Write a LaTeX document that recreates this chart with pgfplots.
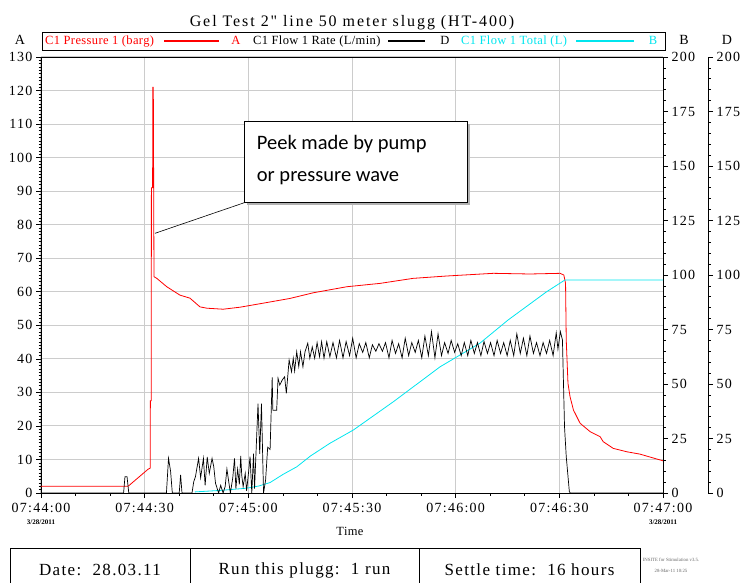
\documentclass[border=0pt]{standalone}
\usepackage{fontspec}
\usepackage{pgfplots}
\pgfplotsset{compat=1.18}
\setmainfont{Liberation Serif}
\newfontfamily\tickfont[LetterSpace=9]{Liberation Serif}
\newfontfamily\legfont[LetterSpace=3]{Liberation Serif}
\newfontfamily\titlefont[LetterSpace=12]{Liberation Serif}
\newfontfamily\footfont[LetterSpace=8]{Liberation Serif}
\newfontfamily\calfont{Carlito}
\definecolor{cyanline}{HTML}{00E5EE}
\definecolor{gridgray}{HTML}{CCCCCC}
\definecolor{pres}{HTML}{FF0000}

\pgfplotsset{
  base/.style={
    at={(41pt,89pt)}, anchor=south west, scale only axis,
    width=622pt, height=436pt, xmin=0, xmax=180,
    tick align=outside, major tick length=5pt, minor tick length=2.5pt,
    axis line style={line width=0.8pt},
    tick style={black, line width=0.6pt},
    tick label style={font=\tickfont\fontsize{14}{16}\selectfont},
    /pgf/number format/assume math mode=true,
  }
}

\begin{document}
\begin{tikzpicture}[x=1pt,y=1pt]
\path[use as bounding box] (0,0) rectangle (745,582);

% legend box and keys first
\draw[line width=0.8pt] (42,532) rectangle (665,550);
\fill[pres] (164,540.4) rectangle (219,541.6);
\fill[black] (388,540.4) rectangle (425,541.6);
\fill[cyanline] (576,540.4) rectangle (634,541.6);

% left axis A: pressure
\begin{axis}[base,
  ymin=0, ymax=130,
  xtick={0,30,...,180},
  xticklabels={07:44:00,07:44:30,07:45:00,07:45:30,07:46:00,07:46:30,07:47:00},
  xticklabel style={yshift=-1.5pt},
  minor x tick num=2,
  ytick distance=10, minor y tick num=9,
  xtick pos=bottom, ytick pos=left,
  grid=major, major grid style={gridgray, line width=1pt},
]
\addplot[pres, line width=0.8pt] coordinates {
(0,2) (25.2,2) (31.0,7.1) (31.6,7.4) (31.65,27.5) (31.9,27.5) (31.95,91) (32.3,91)
(32.35,121) (32.5,121) (32.7,64.5) (33.5,64) (36.4,61.5) (40.2,59) (43.1,58.1)
(46,55.5) (48,55.1) (52.7,54.8) (57.6,55.4) (64.3,56.6) (72,58) (78.8,59.7)
(88.5,61.5) (98.1,62.5) (107.7,64) (117.4,64.7) (130.9,65.5) (141.5,65.3)
(150.2,65.5) (151.3,65) (151.8,62.5) (152.0,45.6) (152.5,32.7) (153.1,28.7)
(154.1,24.7) (156,20.8) (158.9,18.3) (161.8,16.8) (162.7,15.3) (165.6,13.3)
(169.5,12.3) (173.3,11.6) (180,9.6)
};
\end{axis}

% right axis B: total
\begin{axis}[base,
  ymin=0, ymax=200,
  axis x line=none, axis y line*=right,
  ytick distance=25, minor y tick num=4,
]
\addplot[cyanline, line width=0.8pt] coordinates {
(44.5,0.5) (52,1.2) (59.5,2.2) (63,3.2) (66.3,4.8) (70,8.5) (74,12) (78,17)
(83.6,22.8) (90.4,28.9) (102,41.9) (115.5,57.9) (127,68.7) (135.2,79.4)
(146.3,92.3) (151.6,97.7) (180,97.7)
};
\end{axis}

% flow rate, plotted on axis D
\begin{axis}[base, ymin=0, ymax=200, hide axis]
\addplot[black, line width=0.7pt] coordinates {
(0,0) (23.9,0) (24.3,7.5) (24.9,7.5) (25.4,0) (36.3,0) (36.9,15.9) (37.5,10)
(38.0,0) (40.0,0) (40.4,8.3) (40.8,0) (43.7,0) (44.2,5.2) (44.7,7.5) (45.6,15.9)
(46.2,7) (47.0,15.9) (47.5,3.5) (48.1,16.5) (48.7,9) (49.5,15.9) (50.0,12)
(50.5,4.5) (51.4,0) (52.0,3.5) (52.7,0) (53.3,3) (53.8,11) (54.8,0) (55.5,7)
(56.0,15.9) (56.4,2) (56.9,11) (57.4,4) (57.8,17) (58.1,8) (58.5,2.9) (59.1,9)
(59.5,1) (60.1,10) (60.5,16.7) (61.0,0) (61.5,18) (61.8,2) (62.8,41) (63.3,18)
(63.8,41) (64.4,0) (65.0,6) (65.6,21) (66.3,20) (66.9,53) (67.1,38) (68.2,38)
(68.6,52.6) (69.1,49.5) (69.8,51.8) (70.5,53.3) (71.0,45.7) (71.8,61) (72.5,55.6)
(73.0,61.8) (73.4,56) (74.0,64.8) (74.6,58) (75.1,64.8) (75.8,57.9) (76.4,64.8)
(77.2,68.7) (77.8,61.8) (78.5,67) (79.2,61.8) (79.9,69) (80.6,62.5) (81.2,69.4)
(81.9,61.8) (82.7,69.4)
(83.6,62.5) (84.5,69) (85.5,62) (86.4,70) (87.4,62) (88.3,69.5) (89.3,63) (90.2,71)
(91.2,62) (92.1,68.5) (93.1,64.5) (94.0,69) (95.0,62) (95.9,68) (96.9,65) (97.8,68.5)
(98.8,65) (99.7,69) (100.7,62) (101.6,70) (102.6,64) (103.5,68.5) (104.5,62) (105.4,71)
(106.4,63) (107.3,69) (108.3,64.5) (109.2,70) (110.2,62) (111.1,72) (112.1,63) (113.0,74)
(114.0,62) (114.9,73) (115.9,63) (116.8,69) (117.8,64) (118.7,70) (119.7,64.5) (120.6,68.5)
(121.6,63) (122.5,69) (123.5,63) (124.4,70) (125.4,64) (126.3,69) (127.3,63) (128.2,69.5)
(129.2,64) (130.1,69) (131.1,63) (132.0,70) (133.0,64) (133.9,69) (134.9,63) (135.8,70)
(136.8,63) (137.7,73) (138.7,64) (139.6,71) (140.6,63) (141.5,72) (142.5,64) (143.4,69)
(144.4,63) (145.3,69) (146.3,64) (147.2,70) (148.2,63) (149.1,73.5) (149.6,66) (150.3,74)
(150.9,70.2) (151.5,30.4) (152.0,16.7) (152.9,0.6) (153.2,0) (180,0)
};
\end{axis}

% separate axis D scale
\begin{axis}[base, at={(86pt,89pt)}, xmin=0, xmax=1, ymin=0, ymax=200,
  axis x line=none, axis y line*=right,
  ytick distance=25, minor y tick num=4]
\end{axis}

% title and axis letters
\node[anchor=base, font=\titlefont\fontsize{16}{18}\selectfont] at (352,555.5) {Gel Test 2\symbol{34} line 50 meter slugg (HT-400)};
\node[anchor=base, font=\fontsize{14}{16}\selectfont] at (20,537) {A};
\node[anchor=base, font=\fontsize{14}{16}\selectfont] at (684,537) {B};
\node[anchor=base, font=\fontsize{14}{16}\selectfont] at (727,537) {D};

% legend texts
\node[anchor=base west, text=pres, inner sep=0, font=\legfont\fontsize{12.5}{14}\selectfont] at (45,537) {C1 Pressure 1 (barg)};
\node[anchor=base, text=pres, inner sep=0, font=\legfont\fontsize{12.5}{14}\selectfont] at (236,537) {A};
\node[anchor=base west, inner sep=0, font=\legfont\fontsize{12.5}{14}\selectfont] at (253,537) {C1 Flow 1 Rate (L/min)};
\node[anchor=base, inner sep=0, font=\legfont\fontsize{12.5}{14}\selectfont] at (445,537) {D};
\node[anchor=base west, text=cyanline, inner sep=0, font=\legfont\fontsize{12.5}{14}\selectfont] at (461,537) {C1 Flow 1 Total (L)};
\node[anchor=base, text=cyanline, inner sep=0, font=\legfont\fontsize{12.5}{14}\selectfont] at (653,537) {B};

% dates and x label
\node[font=\bfseries\fontsize{7}{8}\selectfont] at (41,60) {3/28/2011};
\node[font=\bfseries\fontsize{7}{8}\selectfont] at (663,60) {3/28/2011};
\node[font=\legfont\fontsize{12.5}{14}\selectfont] at (350,51) {Time};

% annotation
\draw[line width=0.6pt] (244.3,379.3) -- (155,348.7);
\fill[gray!60] (246.8,376.8) rectangle (469.8,457.8);
\draw[fill=white, line width=0.6pt] (244.3,379.3) rectangle (467.3,460.3);
\node[anchor=base west, inner sep=0, font=\calfont\fontsize{20.5}{24}\selectfont] at (256.7,432.7) {Peek made by pump};
\node[anchor=base west, inner sep=0, font=\calfont\fontsize{20.5}{24}\selectfont] at (256.7,400.3) {or pressure wave};

% footer table
\draw[line width=0.8pt] (10,34) rectangle (640,-6);
\draw[line width=0.8pt] (190,34) -- (190,-6);
\draw[line width=0.8pt] (419,34) -- (419,-6);
\node[font=\footfont\fontsize{17}{19}\selectfont] at (100,12) {Date:\ \ 28.03.11};
\node[font=\footfont\fontsize{17}{19}\selectfont] at (304.5,12) {Run this plugg:\ \ 1 run};
\node[font=\footfont\fontsize{17}{19}\selectfont] at (529.5,12) {Settle time:\ \ 16 hours};
\node[black!60, inner sep=0, font=\fontsize{4.8}{6}\selectfont] at (671,22) {INSITE for Stimulation v3.5.};
\node[black!60, inner sep=0, font=\fontsize{4.8}{6}\selectfont] at (671,11) {28-Mar-11 10:25};
\end{tikzpicture}
\end{document}
